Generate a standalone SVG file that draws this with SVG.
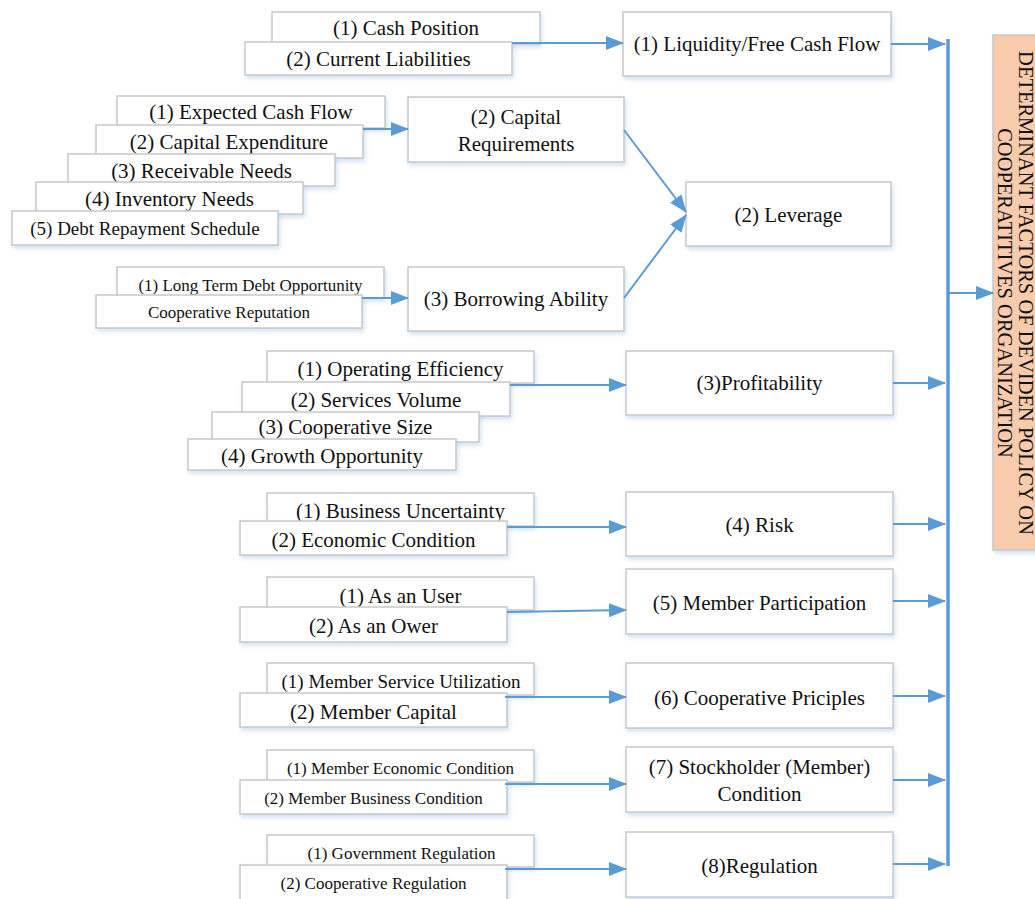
<svg xmlns="http://www.w3.org/2000/svg" width="1035" height="899" viewBox="0 0 1035 899">
<defs>
<filter id="sh" x="-5%" y="-10%" width="112%" height="135%">
<feDropShadow dx="1.5" dy="3" stdDeviation="2" flood-color="#9dc3e6" flood-opacity="0.45"/>
</filter>
<marker id="ah" markerUnits="userSpaceOnUse" markerWidth="18" markerHeight="14" refX="17" refY="7" orient="auto">
<path d="M0,0 L18,7 L0,14 z" fill="#5b9bd5"/>
</marker>
<style>
.box{fill:#fff;stroke:#c8c8c8;stroke-width:1.5;filter:url(#sh)}
.main{fill:#f8cbad;stroke:#c8c8c8;stroke-width:1.5;filter:url(#sh)}
text{font-family:"Liberation Serif","Times New Roman",serif;fill:#111;text-anchor:middle}
.t21{font-size:21px}
.t20{font-size:20.5px}
.t19{font-size:19px}
.t17{font-size:17px}
.con{stroke:#5b9bd5;stroke-width:2;fill:none;marker-end:url(#ah)}
.bus{stroke:#5b9bd5;stroke-width:3.5;fill:none}
</style>
</defs>
<rect width="1035" height="899" fill="#fff"/>

<!-- Row 1 -->
<g id="cash-position"><rect class="box" x="272" y="12" width="268" height="32"/><text class="t21" x="406" y="35">(1) Cash Position</text></g>
<g id="current-liabilities"><rect class="box" x="245" y="42" width="267" height="33"/><text class="t21" x="378.5" y="66">(2) Current Liabilities</text></g>
<g id="liquidity"><rect class="box" x="623" y="12" width="268" height="64"/><text class="t21" x="757" y="51">(1) Liquidity/Free Cash Flow</text></g>

<!-- Row 2 -->
<g id="expected-cash-flow"><rect class="box" x="117" y="96" width="268" height="32"/><text class="t21" x="251" y="119">(1) Expected Cash Flow</text></g>
<g id="capital-expenditure"><rect class="box" x="96" y="125" width="267" height="33"/><text class="t21" x="229" y="149">(2) Capital Expenditure</text></g>
<g id="receivable-needs"><rect class="box" x="68" y="154" width="267" height="32"/><text class="t21" x="201.5" y="178">(3) Receivable Needs</text></g>
<g id="inventory-needs"><rect class="box" x="36" y="182" width="267" height="32"/><text class="t21" x="169.5" y="206">(4) Inventory Needs</text></g>
<g id="debt-repayment"><rect class="box" x="12" y="211" width="266" height="34"/><text class="t19" x="145" y="235">(5) Debt Repayment Schedule</text></g>
<g id="capital-requirements"><rect class="box" x="408" y="97" width="216" height="65"/><text class="t21" x="516" y="124">(2) Capital</text><text class="t21" x="516" y="151">Requirements</text></g>
<g id="leverage"><rect class="box" x="686" y="182" width="205" height="64"/><text class="t21" x="788.5" y="222">(2) Leverage</text></g>
<g id="long-term-debt"><rect class="box" x="117" y="267" width="267" height="31"/><text class="t17" x="250.5" y="291">(1) Long Term Debt Opportunity</text></g>
<g id="cooperative-reputation"><rect class="box" x="96" y="295" width="266" height="33"/><text class="t17" x="229" y="318">Cooperative Reputation</text></g>
<g id="borrowing-ability"><rect class="box" x="408" y="267" width="216" height="64"/><text class="t21" x="516" y="306">(3) Borrowing Ability</text></g>

<!-- Row 3 -->
<g id="operating-efficiency"><rect class="box" x="267" y="351" width="267" height="32"/><text class="t21" x="400.5" y="376">(1) Operating Efficiency</text></g>
<g id="services-volume"><rect class="box" x="242" y="382" width="268" height="34"/><text class="t21" x="376" y="407">(2) Services Volume</text></g>
<g id="cooperative-size"><rect class="box" x="212" y="412" width="267" height="30"/><text class="t21" x="345.5" y="434">(3) Cooperative Size</text></g>
<g id="growth-opportunity"><rect class="box" x="188" y="439" width="268" height="31"/><text class="t21" x="322" y="463">(4) Growth Opportunity</text></g>
<g id="profitability"><rect class="box" x="626" y="351" width="267" height="64"/><text class="t21" x="759.5" y="390">(3)Profitability</text></g>

<!-- Row 4 -->
<g id="business-uncertainty"><rect class="box" x="267" y="493" width="267" height="33"/><text class="t21" x="400.5" y="518">(1) Business Uncertainty</text></g>
<g id="economic-condition"><rect class="box" x="240" y="521" width="267" height="34"/><text class="t21" x="373.5" y="547">(2) Economic Condition</text></g>
<g id="risk"><rect class="box" x="626" y="492" width="267" height="64"/><text class="t21" x="759.5" y="532">(4) Risk</text></g>

<!-- Row 5 -->
<g id="as-user"><rect class="box" x="267" y="577" width="267" height="33"/><text class="t21" x="400.5" y="603">(1) As an User</text></g>
<g id="as-ower"><rect class="box" x="240" y="607" width="267" height="35"/><text class="t21" x="373.5" y="633">(2) As an Ower</text></g>
<g id="member-participation"><rect class="box" x="626" y="569" width="267" height="65"/><text class="t21" x="759.5" y="610">(5) Member Participation</text></g>

<!-- Row 6 -->
<g id="member-service-utilization"><rect class="box" x="267" y="663" width="267" height="32"/><text class="t19" x="401" y="688">(1) Member Service Utilization</text></g>
<g id="member-capital"><rect class="box" x="240" y="693" width="267" height="34"/><text class="t21" x="373.5" y="719">(2) Member Capital</text></g>
<g id="cooperative-priciples"><rect class="box" x="626" y="663" width="267" height="65"/><text class="t21" x="759.5" y="705">(6) Cooperative Priciples</text></g>

<!-- Row 7 -->
<g id="member-economic-condition"><rect class="box" x="267" y="750" width="267" height="32"/><text class="t17" x="400.5" y="774">(1) Member Economic Condition</text></g>
<g id="member-business-condition"><rect class="box" x="240" y="780" width="267" height="34"/><text class="t17" x="373.5" y="804">(2) Member Business Condition</text></g>
<g id="stockholder-condition"><rect class="box" x="626" y="747" width="267" height="65"/><text class="t21" x="759.5" y="774">(7) Stockholder (Member)</text><text class="t21" x="759.5" y="801">Condition</text></g>

<!-- Row 8 -->
<g id="government-regulation"><rect class="box" x="267" y="835" width="267" height="32"/><text class="t17" x="401.5" y="859">(1) Government Regulation</text></g>
<g id="cooperative-regulation"><rect class="box" x="240" y="865" width="267" height="36"/><text class="t17" x="373.5" y="889">(2) Cooperative Regulation</text></g>
<g id="regulation"><rect class="box" x="626" y="832" width="267" height="65"/><text class="t21" x="759.5" y="873">(8)Regulation</text></g>

<!-- Main target -->
<g id="determinant-factors">
<rect class="main" x="993" y="35" width="50" height="515"/>
<text class="t20" transform="translate(1019,293) rotate(90)" x="0" y="0">DETERMINANT FACTORS OF DEVIDEN POLICY ON</text>
<text class="t20" transform="translate(998,293) rotate(90)" x="0" y="0">COOPERATITIVES ORGANIZATION</text>
</g>

<g id="connectors">
<line class="con" x1="512" y1="43" x2="623" y2="43"/>
<line class="con" x1="891" y1="44" x2="945" y2="44"/>
<line class="con" x1="363" y1="129" x2="408" y2="129"/>
<line class="con" x1="624" y1="130" x2="686" y2="212"/>
<line class="con" x1="362" y1="298" x2="408" y2="298"/>
<line class="con" x1="624" y1="298" x2="686" y2="215"/>
<line class="con" x1="510" y1="385" x2="626" y2="385"/>
<line class="con" x1="893" y1="383" x2="945" y2="383"/>
<line class="con" x1="507" y1="527" x2="626" y2="527"/>
<line class="con" x1="893" y1="524" x2="945" y2="524"/>
<line class="con" x1="507" y1="612" x2="626" y2="610"/>
<line class="con" x1="893" y1="601" x2="945" y2="601"/>
<line class="con" x1="505" y1="697" x2="626" y2="697"/>
<line class="con" x1="893" y1="696" x2="945" y2="696"/>
<line class="con" x1="505" y1="784" x2="626" y2="784"/>
<line class="con" x1="893" y1="780" x2="945" y2="780"/>
<line class="con" x1="505" y1="869" x2="626" y2="869"/>
<line class="con" x1="893" y1="864" x2="945" y2="864"/>
<line class="bus" x1="948" y1="39" x2="948" y2="866"/>
<line class="con" x1="948" y1="293" x2="993" y2="293"/>
</g>
</svg>
